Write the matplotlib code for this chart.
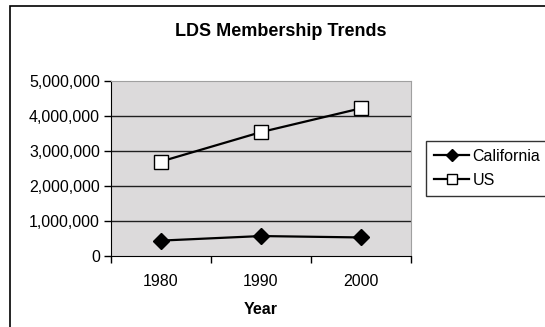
import matplotlib
matplotlib.use("Agg")
import matplotlib.pyplot as plt
from matplotlib.patches import Rectangle
from matplotlib.ticker import FuncFormatter

years = ["1980", "1990", "2000"]
california = [440000, 570000, 530000]
us = [2700000, 3540000, 4220000]
yticks = [0, 1000000, 2000000, 3000000, 4000000, 5000000]

plt.rcParams["font.family"] = ["Liberation Sans", "DejaVu Sans"]

fig = plt.figure(figsize=(5.45, 3.27), dpi=100)
W, H = 545, 327

# outer chart border (cut off at right and bottom like the screenshot)
fig.patches.append(Rectangle((10 / W, -0.05), 1.1, (327 - 6) / H + 0.05,
                             transform=fig.transFigure, fill=False,
                             edgecolor="black", linewidth=1.2))

ax = fig.add_axes([111 / W, 1 - 256 / H, 300 / W, 175 / H])
ax.set_facecolor("#dcdadb")

x = list(range(len(years)))
ax.plot(x, california, color="black", linewidth=1.6, marker="D",
        markersize=8, markerfacecolor="black", markeredgecolor="black",
        label="California", zorder=3)
ax.plot(x, us, color="black", linewidth=1.6, marker="s",
        markersize=9.5, markerfacecolor="white", markeredgecolor="black",
        markeredgewidth=1.0, label="US", zorder=3)

ax.set_xlim(-0.5, len(years) - 0.5)
ax.set_ylim(0, 5000000)
ax.set_yticks(yticks)
ax.yaxis.set_major_formatter(FuncFormatter(lambda v, p: f"{int(v):,}"))
for v in yticks[1:-1]:
    ax.axhline(v, color="#202020", linewidth=1.0, zorder=1)

ax.set_xticks([i - 0.5 for i in range(len(years) + 1)])
ax.set_xticklabels([])
ax.set_xticks(x, minor=True)
ax.set_xticklabels(years, minor=True)
ax.tick_params(axis="x", which="minor", length=0, labelsize=11.5, pad=13)
ax.tick_params(axis="x", which="major", length=5, direction="out", width=1)
ax.tick_params(axis="y", length=5, direction="out", width=1, labelsize=11.5, pad=3)

ax.spines["left"].set_color("black")
ax.spines["bottom"].set_color("black")
ax.spines["top"].set_color("#a0a0a0")
ax.spines["right"].set_color("#a0a0a0")

ax.set_xlabel("Year", fontsize=11.5, fontweight="bold", labelpad=9)
fig.text(281 / W, 1 - 31 / H, "LDS Membership Trends", ha="center", va="center",
         fontsize=13, fontweight="bold")

leg = fig.legend(loc="upper left", bbox_to_anchor=(426 / W, 1 - 141 / H),
                 fontsize=11.5, frameon=True, fancybox=False, edgecolor="black",
                 handlelength=2.2, handletextpad=0.2, borderpad=0.5,
                 labelspacing=0.55, borderaxespad=0)
leg.get_frame().set_linewidth(1.0)
for h in leg.legend_handles:
    h.set_markersize(6 if h.get_label() == "California" else 7)

fig.savefig("out.png", dpi=100)
